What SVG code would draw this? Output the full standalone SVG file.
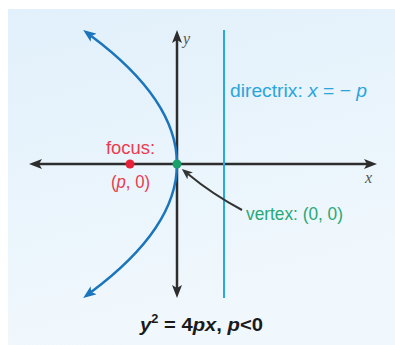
<svg xmlns="http://www.w3.org/2000/svg" width="395" height="345" viewBox="0 0 395 345">
  <defs>
    <linearGradient id="bg" x1="0" y1="0" x2="0.3" y2="1">
      <stop offset="0" stop-color="#e1f0fb"/>
      <stop offset="1" stop-color="#f1f8fd"/>
    </linearGradient>
    <marker id="axisHead" viewBox="0 0 13 10" refX="3" refY="5" markerWidth="13" markerHeight="10" markerUnits="userSpaceOnUse" orient="auto-start-reverse">
      <path d="M0,0 L13,5 L0,10 L3,5 z" fill="#2d2d2d"/>
    </marker>
    <marker id="curveHead" viewBox="0 0 13 10" refX="3" refY="5" markerWidth="13" markerHeight="10" markerUnits="userSpaceOnUse" orient="auto-start-reverse">
      <path d="M0,0 L13,5 L0,10 L3,5 z" fill="#1a75bc"/>
    </marker>
    <marker id="pointerHead" viewBox="0 0 11 9" refX="3" refY="4.5" markerWidth="11" markerHeight="9" markerUnits="userSpaceOnUse" orient="auto">
      <path d="M0,0 L11,4.5 L0,9 L3,4.5 z" fill="#333333"/>
    </marker>
    <style>
      .axis { stroke: #2d2d2d; stroke-width: 2.5; fill: none; }
      .lbl { font-family: "Liberation Sans", "Arial", sans-serif; font-size: 19px; }
      .axlbl { font-family: "Liberation Serif", "Times New Roman", serif; font-style: italic; font-size: 16px; fill: #555555; }
      .it { font-style: italic; }
    </style>
  </defs>

  <rect x="0" y="0" width="395" height="345" fill="#ffffff"/>
  <rect id="panel" x="8" y="9" width="387" height="336" fill="url(#bg)"/>

  <g id="axes">
    <path class="axis" d="M39,164 L367,164" marker-start="url(#axisHead)" marker-end="url(#axisHead)"/>
    <path class="axis" d="M177,40 L177,288" marker-start="url(#axisHead)" marker-end="url(#axisHead)"/>
    <text class="axlbl" x="183" y="44">y</text>
    <text class="axlbl" x="365" y="183">x</text>
  </g>

  <g id="directrix">
    <line x1="224" y1="30" x2="224" y2="298" stroke="#27aae1" stroke-width="2"/>
    <text class="lbl" x="230" y="97" fill="#2aa5dc" textLength="137" lengthAdjust="spacingAndGlyphs">directrix: <tspan class="it">x</tspan> =  − <tspan class="it">p</tspan></text>
  </g>

  <g id="parabola">
    <path d="M91.2,36 Q262.8,164 91.2,292" fill="none" stroke="#1a75bc" stroke-width="2.5" marker-start="url(#curveHead)" marker-end="url(#curveHead)"/>
  </g>

  <g id="focus">
    <circle cx="130" cy="164" r="4.5" fill="#e8213a"/>
    <text class="lbl" x="106" y="153.5" fill="#ec3a4e" textLength="49" lengthAdjust="spacingAndGlyphs">focus:</text>
    <text class="lbl" x="111" y="188" fill="#ec3a4e" textLength="39" lengthAdjust="spacingAndGlyphs">(<tspan class="it">p</tspan>, 0)</text>
  </g>

  <g id="vertex">
    <circle cx="177" cy="164" r="4.5" fill="#1aa06a"/>
    <text class="lbl" x="246" y="220" fill="#26a977" textLength="97" lengthAdjust="spacingAndGlyphs">vertex: (0, 0)</text>
  </g>

  <g id="connectors">
    <path d="M242,210 Q212,194 188,174" fill="none" stroke="#333333" stroke-width="2" marker-end="url(#pointerHead)"/>
  </g>

  <g id="equation">
    <text x="140" y="331" font-family="Liberation Sans, Arial, sans-serif" font-size="19" font-weight="bold" fill="#1a1a1a" textLength="123" lengthAdjust="spacingAndGlyphs"><tspan class="it">y</tspan><tspan font-size="12" dy="-8">2</tspan><tspan dy="8"> = 4</tspan><tspan class="it">px</tspan>, <tspan class="it">p</tspan>&lt;0</text>
  </g>
</svg>
